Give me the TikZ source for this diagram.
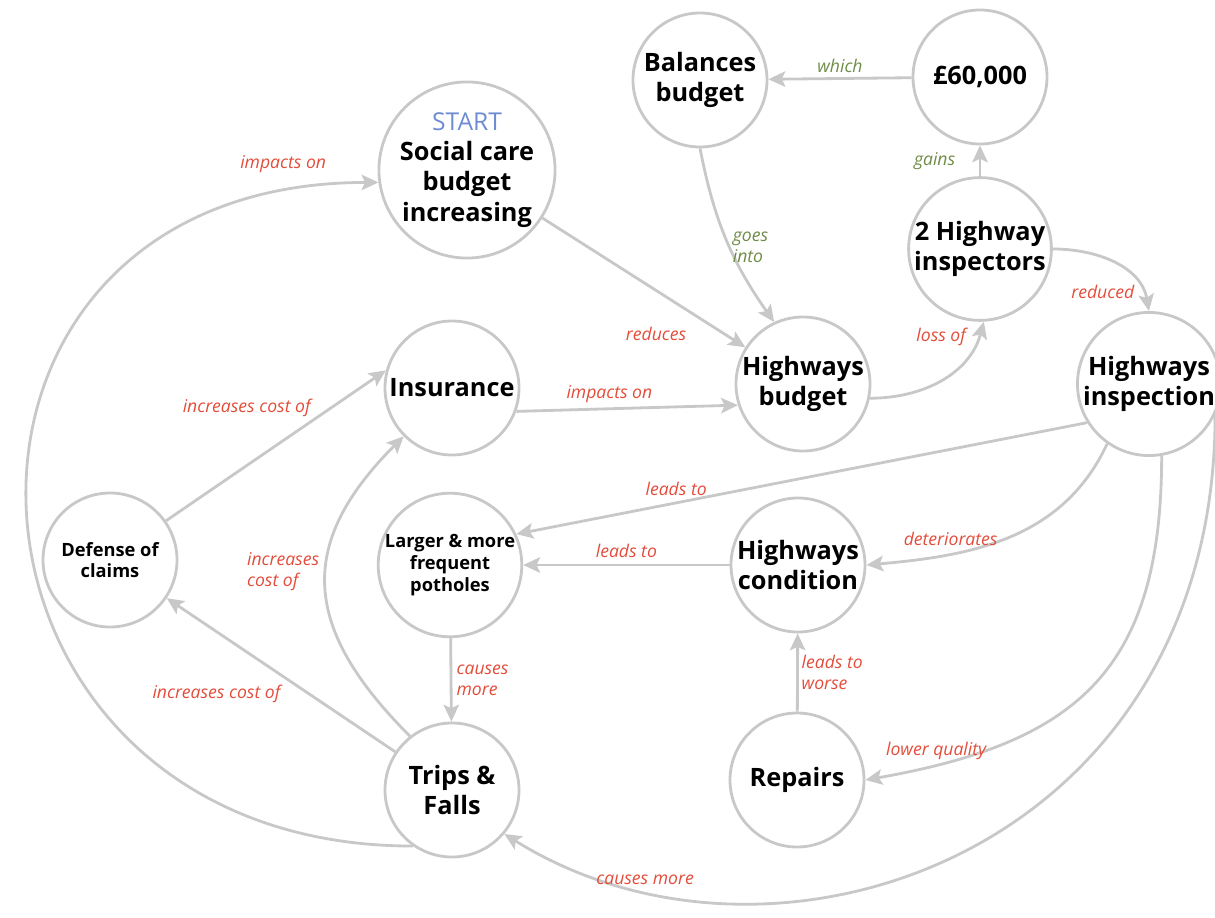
\documentclass[tikz,border=0pt]{standalone}
\usepackage{fontspec}
\setmainfont{Open Sans}
\usepackage{xcolor}
\usetikzlibrary{arrows.meta, positioning}
\definecolor{linegray}{RGB}{200,200,200}
\definecolor{effectred}{RGB}{228,76,58}
\definecolor{gaingreen}{RGB}{110,140,70}
\definecolor{startblue}{RGB}{110,140,210}
\tikzstyle{factor} = [circle, draw=linegray, line width=2pt, minimum size=3.35cm, inner sep=0pt, align=center, font=\fontsize{18}{21.5}\selectfont\bfseries]
\tikzstyle{minor}  = [factor, font=\fontsize{13}{15.5}\selectfont\bfseries]
\tikzstyle{arrow}  = [draw=linegray, line width=2pt, -{Stealth[length=12pt,width=11pt,inset=2.5pt]}]
\tikzstyle{effect} = [font=\fontsize{12.5}{15}\selectfont\itshape, text=effectred, inner sep=1pt]
\tikzstyle{gain}   = [effect, text=gaingreen]

\begin{document}
\begin{tikzpicture}
    \useasboundingbox (0,0) rectangle (30.375,-22.925);
    \node (soc)  at (11.675, -4.25)  [factor, minimum size=4.4cm] {{\color{startblue}\mdseries\fontsize{17.5}{20}\selectfont START}\\Social care\\budget\\increasing};
    \node (bal)  at (17.5,   -2.0)   [factor] {Balances\\budget};
    \node (gbp)  at (24.5,   -1.925) [factor] {£60,000};
    \node (ins)  at (24.5,   -6.225) [factor] {2 Highway\\inspectors};
    \node (hbud) at (20.075, -9.6)   [factor] {Highways\\budget};
    \node (insu) at (11.3,   -9.7)   [factor] {Insurance};
    \node (hin)  at (28.725, -9.6)   [factor] {Highways\\inspection};
    \node (def)  at (2.75,  -14.0)   [minor]  {Defense of\\claims};
    \node (pot)  at (11.25, -14.125) [minor]  {Larger \& more\\frequent\\potholes};
    \node (hcon) at (19.95, -14.125) [factor] {Highways\\condition};
    \node (trip) at (11.3,  -19.75)  [factor] {Trips \&\\Falls};
    \node (rep)  at (19.925,-19.5)   [factor] {Repairs};

    % budget side
    \draw [arrow] (soc) -- node[effect, pos=0.56, below=0.85cm]{reduces} (hbud);
    \draw [arrow] (bal.south) to[bend right=12] node[gain, pos=0.55, right, align=left]{goes\\into} (hbud.115);
    \draw [arrow] (gbp) -- node[gain, above=2pt]{which} (bal);
    \draw [arrow] (ins) -- node[gain, left=0.55cm]{gains} (gbp);
    \draw [arrow] (hbud.-12) to[out=0,in=-105] node[effect, pos=0.9, left=0.25cm]{loss of} (ins.-87);
    \draw [arrow] (ins.east) to[out=0,in=100] node[effect, pos=0.75, below left=0pt]{reduced} (hin.north);
    \draw [arrow] (insu.-20) -- node[effect, pos=0.42, above=2pt]{impacts on} (hbud.198);
    % inspection effects
    \draw [arrow] (hin.212) -- node[effect, pos=0.72, above=3pt]{leads to} (pot.25);
    \draw [arrow] (hcon) -- node[effect, above=3pt]{leads to} (pot);
    \draw [arrow] (hin.235) to[out=-115,in=5] node[effect, pos=0.72, above=4pt]{deteriorates} (hcon.east);
    \draw [arrow] (rep) -- node[effect, right=1pt, align=left]{leads to\\worse} (hcon);
    \draw [arrow] (hin.-80) to[out=-90,in=10,looseness=1.25] node[effect, pos=0.88, above=2pt]{lower quality} (rep.east);
    \draw [arrow] (hin.-25) to[out=-90,in=-32,out distance=10.9cm,in distance=8cm] node[effect, pos=0.84, above=2pt]{causes more} (trip.-40);
    % trips and falls
    \draw [arrow] (pot) -- node[effect, right=2pt, align=left]{causes\\more} (trip);
    \draw [arrow] (trip.128) to[out=135,in=-135,looseness=1.3] node[effect, pos=0.55, left=3pt, align=left]{increases\\cost of} (insu.225);
    \draw [arrow] (trip) -- node[effect, pos=0.46, below left=1pt and 5pt]{increases cost of} (def);
    \draw [arrow] (def.35) -- node[effect, pos=0.67, anchor=south east]{increases cost of} (insu.165);
    \draw [arrow] (trip.235) to[out=180,in=180,out distance=12.25cm,in distance=12.25cm] node[effect, pos=0.93, above=0.4cm]{impacts on} (soc.188);
\end{tikzpicture}
\end{document}
